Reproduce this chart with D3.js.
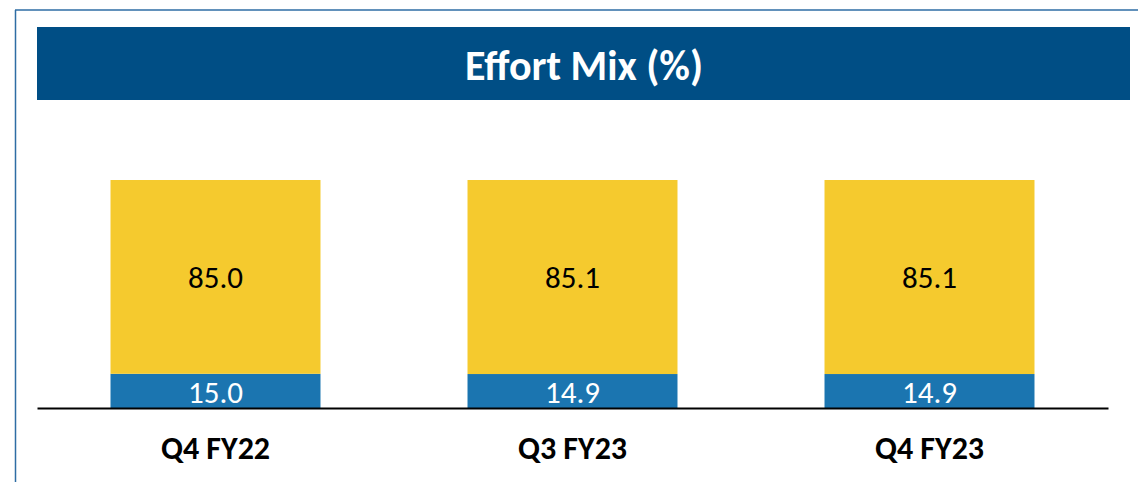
<!DOCTYPE html>
<html>
<head>
<meta charset="utf-8">
<script src="https://cdn.jsdelivr.net/npm/d3@7"></script>
<style>
  body { margin: 0; background: #fff; }
  text { font-family: Carlito, Calibri, Lato, "Open Sans", sans-serif; }
</style>
</head>
<body>
<div id="chart"></div>
<script>
const categories = ["Q4 FY22", "Q3 FY23", "Q4 FY23"];
const offsite = [85.0, 85.1, 85.1];
const onsite = [15.0, 14.9, 14.9];
const title = "Effort Mix (%)";

const W = 1138, H = 482;
const svg = d3.select("#chart").append("svg")
  .attr("width", W).attr("height", H);

// outer frame (top + left)
svg.append("line").attr("x1", 15).attr("x2", W).attr("y1", 10).attr("y2", 10)
  .attr("stroke", "#2e6da4").attr("stroke-width", 1.5);
svg.append("line").attr("x1", 15.5).attr("x2", 15.5).attr("y1", 10).attr("y2", H)
  .attr("stroke", "#2e6da4").attr("stroke-width", 1.5);

// title banner
svg.append("rect").attr("x", 37).attr("y", 27).attr("width", 1093).attr("height", 73)
  .attr("fill", "#004e85");
svg.append("text").attr("x", 584).attr("y", 65)
  .attr("text-anchor", "middle").attr("dominant-baseline", "central")
  .attr("fill", "#fff").attr("font-size", 42).attr("font-weight", "bold")
  .text(title);

const x = d3.scaleBand().domain(categories).range([37, 1108])
  .paddingInner(0.4118).paddingOuter(0.2059);
const y = d3.scaleLinear().domain([0, 100]).range([408, 180]);

const data = categories.map((c, i) => ({ cat: c, on: onsite[i], off: offsite[i] }));

const g = svg.append("g");
// onsite (blue)
g.selectAll(".on").data(data).enter().append("rect")
  .attr("x", d => x(d.cat)).attr("width", x.bandwidth())
  .attr("y", d => y(d.on)).attr("height", d => y(0) - y(d.on))
  .attr("fill", "#1b75b0");
// offsite (yellow)
g.selectAll(".off").data(data).enter().append("rect")
  .attr("x", d => x(d.cat)).attr("width", x.bandwidth())
  .attr("y", d => y(d.on + d.off)).attr("height", d => y(d.on) - y(d.on + d.off))
  .attr("fill", "#f5ca2e");

g.selectAll(".onl").data(data).enter().append("text")
  .attr("x", d => x(d.cat) + x.bandwidth() / 2).attr("y", d => y(d.on / 2) + 1)
  .attr("text-anchor", "middle").attr("dominant-baseline", "central")
  .attr("fill", "#fff").attr("font-size", 31)
  .text(d => d.on.toFixed(1));
g.selectAll(".offl").data(data).enter().append("text")
  .attr("x", d => x(d.cat) + x.bandwidth() / 2).attr("y", d => y(d.on + d.off / 2))
  .attr("text-anchor", "middle").attr("dominant-baseline", "central")
  .attr("fill", "#000").attr("font-size", 31)
  .text(d => d.off.toFixed(1));

// baseline + category axis
const axis = svg.append("g").attr("transform", "translate(0,408)")
  .call(d3.axisBottom(x).tickSize(0).tickPadding(28));
axis.select(".domain").attr("stroke", "#000").attr("stroke-width", 2);
axis.selectAll(".tick text").attr("font-size", 32).attr("font-weight", "bold")
  .attr("fill", "#000").attr("font-family", "Carlito, Calibri, Lato, 'Open Sans', sans-serif");
</script>
</body>
</html>
